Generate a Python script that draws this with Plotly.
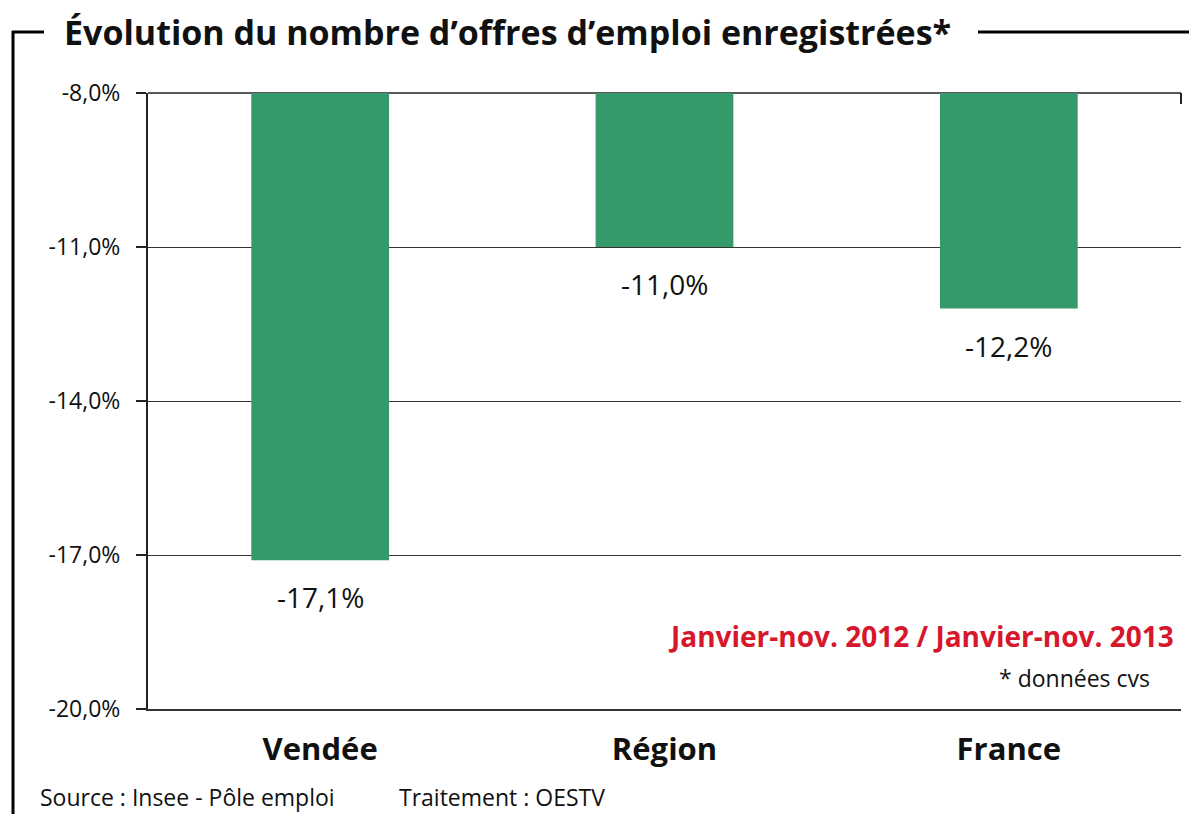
import plotly.graph_objects as go

categories = ["Vendée", "Région", "France"]
values = [-17.1, -11.0, -12.2]
value_labels = ["-17,1%", "-11,0%", "-12,2%"]
base_value = -8.0
tick_vals = [-20, -17, -14, -11, -8]
tick_text = ["-20,0%", "-17,0%", "-14,0%", "-11,0%", "-8,0%"]

# page body has an 8px margin: figure is drawn at (8, 8)
OFF = 8
W, H = 1197 - OFF, 814 - OFF
L, R, T, B = 148, 1181, 93, 709   # plot area in window pixels
FONT = "Open Sans"


def px(x):
    return (x - L) / (R - L)


def py(y):
    return (B - y) / (B - T)


fig = go.Figure()
fig.add_trace(go.Bar(
    x=categories,
    y=[v - base_value for v in values],
    base=base_value,
    marker=dict(color="#35996a", line=dict(width=0)),
    width=0.4,
    hoverinfo="skip",
))

annotations = []
for c, v, t in zip(categories, values, value_labels):
    annotations.append(dict(x=c, y=v, xref="x", yref="y", text=t, showarrow=False,
                            yanchor="middle", yshift=-37,
                            font=dict(family=FONT, size=28, color="#111")))

annotations += [
    dict(x=px(62), y=py(32), xref="paper", yref="paper", xanchor="left", yanchor="middle",
         text="<b>Évolution du nombre d’offres d’emploi enregistrées*</b>", showarrow=False,
         font=dict(family=FONT, size=34, color="#111")),
    dict(x=px(1176), y=py(636), xref="paper", yref="paper", xanchor="right", yanchor="middle",
         text="<b>Janvier-nov. 2012 / Janvier-nov. 2013</b>", showarrow=False,
         font=dict(family=FONT, size=28, color="#d6172c")),
    dict(x=px(1152), y=py(678), xref="paper", yref="paper", xanchor="right", yanchor="middle",
         text="* données cvs", showarrow=False,
         font=dict(family=FONT, size=23, color="#111")),
    dict(x=px(38), y=py(797), xref="paper", yref="paper", xanchor="left", yanchor="middle",
         text="Source : Insee - Pôle emploi", showarrow=False,
         font=dict(family=FONT, size=23, color="#111")),
    dict(x=px(397), y=py(797), xref="paper", yref="paper", xanchor="left", yanchor="middle",
         text="Traitement : OESTV", showarrow=False,
         font=dict(family=FONT, size=23, color="#111")),
]

shapes = [
    dict(type="line", xref="paper", yref="paper", x0=px(13), x1=px(13), y0=py(31), y1=py(820),
         line=dict(color="#000", width=3)),
    dict(type="line", xref="paper", yref="paper", x0=px(12), x1=px(44), y0=py(32), y1=py(32),
         line=dict(color="#000", width=3)),
    dict(type="line", xref="paper", yref="paper", x0=px(978), x1=px(1200), y0=py(32), y1=py(32),
         line=dict(color="#000", width=3)),
    # top (-8 %) line with small tick at its right end
    dict(type="line", xref="paper", yref="paper", x0=0, x1=1, y0=1, y1=1,
         line=dict(color="#222", width=1.5), layer="below"),
    dict(type="line", xref="paper", yref="paper", x0=1, x1=1, y0=1, y1=py(104),
         line=dict(color="#222", width=2)),
]

fig.update_layout(
    width=W, height=H,
    margin=dict(l=L - OFF, r=1197 - R, t=T - OFF, b=814 - B, pad=0),
    paper_bgcolor="white", plot_bgcolor="white",
    showlegend=False,
    bargap=0.6,
    annotations=annotations,
    shapes=shapes,
    font=dict(family=FONT, color="#111"),
)
fig.update_xaxes(
    showgrid=False, showline=True, linecolor="#333", linewidth=1.5,
    ticks="", tickfont=dict(family=FONT, size=31, color="#111"),
    ticktext=[f"<b>{c}</b>" for c in categories], tickvals=categories,
    ticklabelstandoff=12,
)
fig.update_yaxes(
    range=[-20, -8], tickvals=tick_vals, ticktext=tick_text,
    showgrid=True, gridcolor="#333", gridwidth=1,
    showline=True, linecolor="#222", linewidth=2,
    ticks="outside", ticklen=10, tickcolor="#222", tickwidth=1.5,
    tickfont=dict(family=FONT, size=23, color="#111"),
    ticklabelstandoff=11, zeroline=False,
)

fig.write_html("out.html")
